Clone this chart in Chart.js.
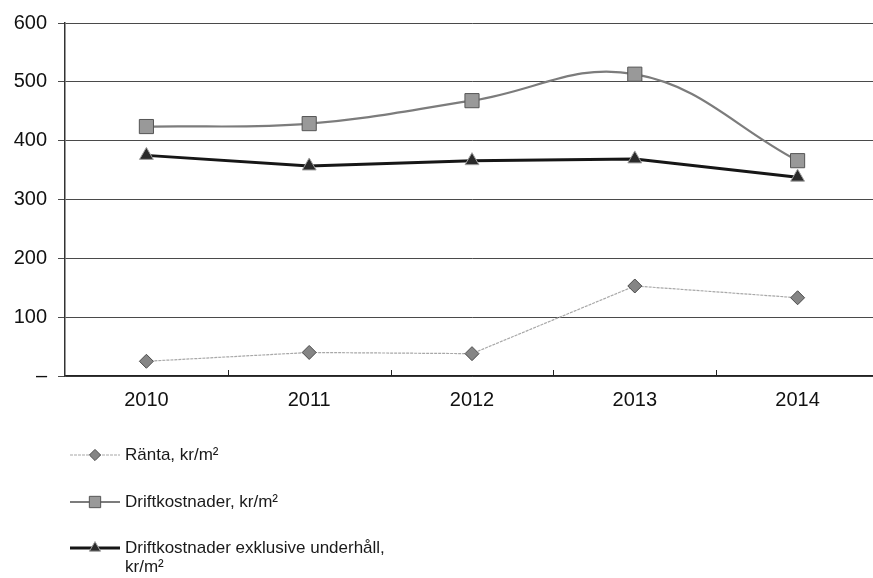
<!DOCTYPE html>
<html>
<head>
<meta charset="utf-8">
<script src="https://cdn.jsdelivr.net/npm/chart.js@4.4.1/dist/chart.umd.min.js"></script>
<style>
  html, body { margin: 0; padding: 0; background: #fff; overflow: hidden; }
  #wrap { position: relative; width: 890px; height: 578px; }
</style>
</head>
<body>
<div id="wrap"><canvas id="chart"></canvas></div>
<script>
// values
const years = ['2010', '2011', '2012', '2013', '2014'];
const ranta = [25, 40, 38, 153, 133];
const drift = [424, 429, 468, 513, 366];
const driftExkl = [375, 357, 366, 369, 338];
const yTicks = [0, 100, 200, 300, 400, 500, 600];

const legendNames = [
    ['Ränta, kr/m²'],
    ['Driftkostnader, kr/m²'],
    ['Driftkostnader exklusive underhåll,', 'kr/m²']
];
const legendRows = [455, 502, 548];

const font = '"Liberation Sans", Arial, sans-serif';

function marker(ctx, style, x, y, r, fill, stroke, bw) {
    ctx.save();
    ctx.fillStyle = fill;
    ctx.strokeStyle = stroke;
    ctx.lineWidth = bw;
    ctx.beginPath();
    if (style === 'rectRot') {
        ctx.moveTo(x, y - r); ctx.lineTo(x + r, y); ctx.lineTo(x, y + r); ctx.lineTo(x - r, y);
    } else if (style === 'rect') {
        const s = r * Math.SQRT1_2;
        ctx.rect(x - s, y - s, 2 * s, 2 * s);
    } else {
        ctx.moveTo(x, y - r); ctx.lineTo(x + r * 0.87, y + r * 0.5); ctx.lineTo(x - r * 0.87, y + r * 0.5);
    }
    ctx.closePath();
    ctx.fill();
    ctx.stroke();
    ctx.restore();
}

// small upward ticks between categories + legend drawn under the plot
const extras = {
    id: 'extras',
    afterDraw(chart) {
        const ctx = chart.ctx;
        const xs = chart.scales.x;
        const bottom = chart.chartArea.bottom;
        ctx.save();
        ctx.strokeStyle = '#222';
        ctx.lineWidth = 1;
        for (let i = 0; i < years.length - 1; i++) {
            const px = Math.round((xs.getPixelForValue(i) + xs.getPixelForValue(i + 1)) / 2) + 0.5;
            ctx.beginPath();
            ctx.moveTo(px, bottom);
            ctx.lineTo(px, bottom - 6);
            ctx.stroke();
        }
        chart.data.datasets.forEach((ds, i) => {
            const y = legendRows[i];
            ctx.strokeStyle = ds.borderColor;
            ctx.lineWidth = ds.borderWidth;
            ctx.setLineDash(ds.borderDash || []);
            ctx.beginPath();
            ctx.moveTo(70, y);
            ctx.lineTo(120, y);
            ctx.stroke();
            ctx.setLineDash([]);
            marker(ctx, ds.pointStyle, 95, y, ds.pointRadius * 0.8, ds.pointBackgroundColor, ds.pointBorderColor, 1);
            ctx.fillStyle = '#1a1a1a';
            ctx.font = '17px ' + font;
            ctx.textBaseline = 'middle';
            legendNames[i].forEach((t, k) => ctx.fillText(t, 125, y + k * 19));
        });
        ctx.restore();
    }
};

new Chart(document.getElementById('chart'), {
    type: 'line',
    data: {
        labels: years,
        datasets: [
            {
                label: legendNames[0].join(' '),
                data: ranta,
                borderColor: '#a8a8a8',
                borderWidth: 1.2,
                borderDash: [3, 1],
                tension: 0,
                pointStyle: 'rectRot',
                pointRadius: 7,
                pointBackgroundColor: '#858585',
                pointBorderColor: '#4a4a4a',
                pointBorderWidth: 1
            },
            {
                label: legendNames[1].join(' '),
                data: drift,
                borderColor: '#7c7c7c',
                borderWidth: 2.2,
                tension: 0.4,
                pointStyle: 'rect',
                pointRadius: 10,
                pointBackgroundColor: '#999999',
                pointBorderColor: '#555555',
                pointBorderWidth: 1
            },
            {
                label: legendNames[2].join(' '),
                data: driftExkl,
                borderColor: '#161616',
                borderWidth: 3,
                tension: 0,
                pointStyle: 'triangle',
                pointRadius: 8,
                pointBackgroundColor: '#2a2a2a',
                pointBorderColor: '#a0a0a0',
                pointBorderWidth: 1
            }
        ]
    },
    options: {
        responsive: true,
        maintainAspectRatio: false,
        animation: false,
        layout: { padding: { top: 22, right: 10, bottom: 162, left: 0 } },
        plugins: {
            legend: { display: false },
            tooltip: { enabled: false }
        },
        scales: {
            x: {
                offset: true,
                grid: { display: false, drawTicks: false },
                border: { display: true, color: '#222', width: 1.5 },
                ticks: { color: '#111', padding: 12, font: { family: font, size: 20 } },
                afterFit(s) { s.height = 40; }
            },
            y: {
                min: 0,
                max: 600,
                afterBuildTicks(s) { s.ticks = yTicks.map(v => ({ value: v })); },
                grid: { color: '#4a4a4a', lineWidth: 1, tickLength: 7 },
                border: { display: true, color: '#333', width: 1.5 },
                ticks: {
                    color: '#111',
                    padding: 11,
                    font: { family: font, size: 20 },
                    callback: v => (v === 0 ? '–' : v)
                },
                afterFit(s) { s.width = 65; }
            }
        }
    },
    plugins: [extras]
});
</script>
</body>
</html>
